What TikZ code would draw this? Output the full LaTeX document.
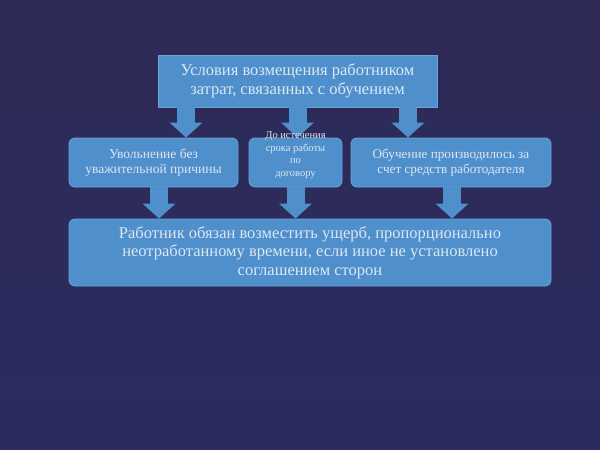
\documentclass[tikz,border=0pt]{standalone}
\usepackage{fontspec}
\setmainfont{Liberation Serif}
\usetikzlibrary{arrows.meta}
\definecolor{bgtop}{HTML}{2E2A56}
\definecolor{bgmid}{HTML}{342A55}
\definecolor{bgbottom}{HTML}{2A2C60}
\definecolor{boxblue}{HTML}{4F8FCB}
\definecolor{boxedge}{HTML}{6AA5DA}
\definecolor{boxtext}{HTML}{DCE7F3}
\begin{document}
\begin{tikzpicture}[x=1pt,y=-1pt]
        % Styles
        \tikzstyle{main box}=[fill=boxblue,draw=boxedge,line width=0.8pt,text=boxtext,align=center,inner sep=0pt]
        \tikzstyle{case box}=[main box,rounded corners=6pt]
        \tikzstyle{block arrow}=[draw=boxblue,line width=18pt,-{Triangle[width=32pt,length=15pt]}]
        %background
        \shade[top color=bgtop,middle color=bgmid,bottom color=bgbottom] (0,0) rectangle (600,450);
        \useasboundingbox (0,0) rectangle (600,450);
        %boxes
        \node[main box,minimum width=279pt,minimum height=52pt,font=\fontsize{16.5}{19}\selectfont] (top) at (297.5,81)
            {Условия возмещения работником\\затрат, связанных с обучением};
        \node[case box,minimum width=169pt,minimum height=49pt,font=\fontsize{13.5}{15}\selectfont] (left) at (153.5,162.5)
            {Увольнение без\\уважительной причины};
        \node[case box,minimum width=93pt,minimum height=49pt] (mid) at (295.5,162.5) {};
        \node[case box,minimum width=200pt,minimum height=49pt,font=\fontsize{13.2}{15}\selectfont] (right) at (451,162.5)
            {Обучение производилось за\\счет средств работодателя};
        \node[case box,minimum width=482pt,minimum height=67pt,font=\fontsize{16.5}{18.5}\selectfont] (bottom) at (310,252.5)
            {Работник обязан возместить ущерб, пропорционально\\неотработанному времени, если иное не установлено\\соглашением сторон};
        %arrows
        \draw[block arrow] ([xshift=-111.5pt]top.south) -- ([xshift=-111.5pt]top.south |- left.north);
        \draw[block arrow] (top.south) -- (top.south |- mid.north);
        \draw[block arrow] ([xshift=110.5pt]top.south) -- ([xshift=110.5pt]top.south |- right.north);
        \draw[block arrow] ([xshift=5.5pt]left.south) -- ([xshift=5.5pt]left.south |- bottom.north);
        \draw[block arrow] (mid.south) -- (mid.south |- bottom.north);
        \draw[block arrow] ([xshift=1pt]right.south) -- ([xshift=1pt]right.south |- bottom.north);
        %text of the middle box, running over its top edge
        \node[text=boxtext,align=center,inner sep=0pt,font=\fontsize{10.5}{12.5}\selectfont] (mid text) at (295.5,155)
            {До истечения\\срока работы\\по\\договору};
\end{tikzpicture}
\end{document}
